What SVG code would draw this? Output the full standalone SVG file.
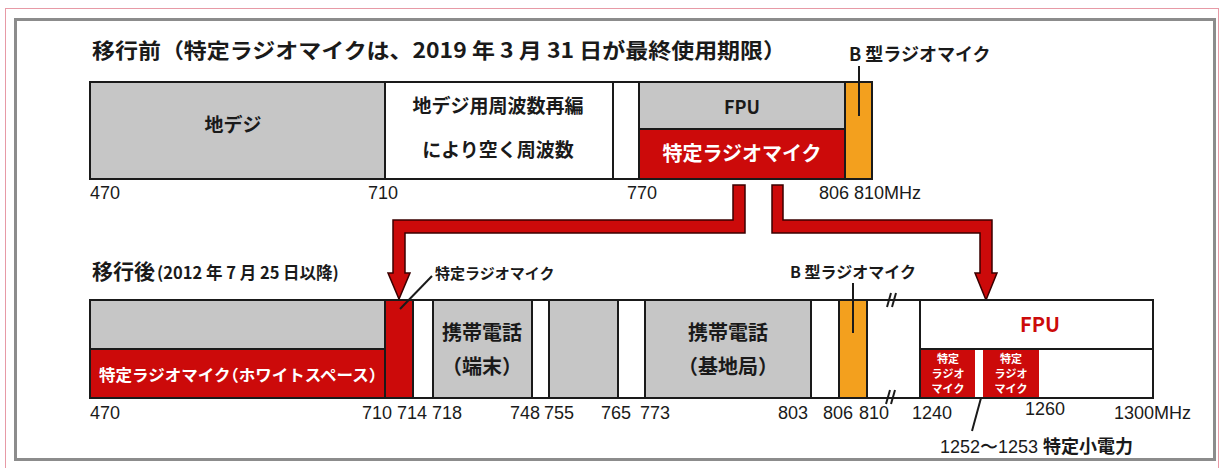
<svg xmlns="http://www.w3.org/2000/svg" width="1225" height="468" viewBox="0 0 1225 468">
<style>
.jp{font-family:'Noto Sans CJK JP','Noto Sans',sans-serif;font-weight:bold;fill:#1a1a1a}
.num{font-family:'Liberation Sans',Arial,sans-serif;font-size:18px;fill:#1a1a1a}
.w{fill:#fff}
.r{fill:#cc0a0a}
.halt{font-feature-settings:"halt"}
.box{stroke:#1a1a1a;stroke-width:2}
.grey{fill:#c6c6c6}
.red{fill:#cc0a0a}
.org{fill:#f3a01e}
.wh{fill:#fff}
.ln{stroke:#1a1a1a;stroke-width:2;fill:none}
.arrow{fill:#cc0a0a;stroke:#3a0000;stroke-width:1.5;stroke-linejoin:miter}
</style>
<rect x="0" y="0" width="1225" height="468" fill="#fff"/>
<rect x="5.5" y="8.5" width="1213" height="470" fill="none" stroke="#e79aa6" stroke-width="1"/>
<rect x="15.5" y="19.5" width="1199" height="440" fill="none" stroke="#8c8c8c" stroke-width="3"/>

<!-- titles -->
<g id="title-before">
<text class="jp" x="92" y="58" font-size="21" textLength="694" lengthAdjust="spacingAndGlyphs">移行前（特定ラジオマイクは、2019 年 3 月 31 日が最終使用期限）</text>
</g>
<g id="title-after">
<text class="jp" x="92" y="279" font-size="21">移行後<tspan font-size="16.5" dx="2">(2012 年 7 月 25 日以降)</tspan></text>
</g>

<!-- top bar -->
<g id="top-chideji">
<rect class="box grey" x="90" y="82" width="295" height="97"/>
<text class="jp" x="233" y="132" font-size="19" text-anchor="middle">地デジ</text>
</g>
<g id="top-freed">
<rect class="box wh" x="385" y="82" width="228" height="97"/>
<text class="jp" x="498" y="113" font-size="19" text-anchor="middle">地デジ用周波数再編</text>
<text class="jp" x="498" y="157" font-size="19" text-anchor="middle">により空く周波数</text>
</g>
<g id="top-gap">
<rect class="box wh" x="613" y="82" width="26" height="97"/>
</g>
<g id="top-fpu">
<rect class="box grey" x="639" y="82" width="206" height="47"/>
<text class="jp" x="742" y="114" font-size="18" text-anchor="middle">FPU</text>
</g>
<g id="top-mic">
<rect class="box red" x="639" y="129" width="206" height="50"/>
<text class="jp w" x="742" y="161" font-size="20" text-anchor="middle">特定ラジオマイク</text>
</g>
<g id="top-bmic">
<rect class="box org" x="845" y="82" width="27" height="97"/>
<line class="ln" x1="859" y1="66" x2="859" y2="116" stroke-width="3"/>
<text class="jp" x="849" y="61" font-size="18">B 型ラジオマイク</text>
</g>
<g id="top-labels">
<text class="num" x="90" y="199">470</text>
<text class="num" x="368" y="199">710</text>
<text class="num" x="627" y="199">770</text>
<text class="num" x="819" y="199">806 810MHz</text>
</g>

<!-- connectors -->
<g id="connectors">
<polygon class="arrow" points="733,185 745,185 745,233 405,233 405,273 410,273 399,299 388,273 393,273 393,220 733,220"/>
<polygon class="arrow" points="772,185 783,185 783,220 992,220 992,273 997,273 986,300 975,273 980,273 980,233 772,233"/>
</g>

<!-- bottom bar -->
<g id="bot-whitespace">
<rect class="box grey" x="90" y="300" width="295" height="49"/>
<rect class="box red" x="90" y="349" width="295" height="49"/>
<text class="jp w halt" x="99" y="381" font-size="16" textLength="278" lengthAdjust="spacingAndGlyphs">特定ラジオマイク（ホワイトスペース）</text>
</g>
<g id="bot-mic">
<rect class="box red" x="385" y="300" width="28" height="98"/>
<line class="ln" x1="400" y1="309" x2="432" y2="276" stroke-width="2.5"/>
<text class="jp" x="435" y="279" font-size="15">特定ラジオマイク</text>
</g>
<g id="bot-gap1"><rect class="box wh" x="413" y="300" width="20" height="98"/></g>
<g id="bot-mobile-term">
<rect class="box grey" x="433" y="300" width="99" height="98"/>
<text class="jp" x="482" y="340" font-size="20" text-anchor="middle">携帯電話</text>
<text class="jp halt" x="482" y="374" font-size="20" text-anchor="middle">（端末）</text>
</g>
<g id="bot-gap2"><rect class="box wh" x="532" y="300" width="17" height="98"/></g>
<g id="bot-grey"><rect class="box grey" x="549" y="300" width="69" height="98"/></g>
<g id="bot-gap3"><rect class="box wh" x="618" y="300" width="27" height="98"/></g>
<g id="bot-mobile-base">
<rect class="box grey" x="645" y="300" width="166" height="98"/>
<text class="jp" x="728" y="340" font-size="20" text-anchor="middle">携帯電話</text>
<text class="jp halt" x="728" y="374" font-size="20" text-anchor="middle">（基地局）</text>
</g>
<g id="bot-gap4"><rect class="box wh" x="811" y="300" width="28" height="98"/></g>
<g id="bot-bmic">
<rect class="box org" x="839" y="300" width="28" height="98"/>
<line class="ln" x1="853" y1="283" x2="853" y2="333" stroke-width="3"/>
<text class="jp" x="790" y="278" font-size="16">B 型ラジオマイク</text>
</g>
<g id="bot-break">
<line class="ln" x1="867" y1="300" x2="920" y2="300"/>
<line class="ln" x1="867" y1="398" x2="920" y2="398"/>
<line class="ln" x1="887" y1="307" x2="891" y2="293" stroke-width="1.5"/>
<line class="ln" x1="892" y1="307" x2="896" y2="293" stroke-width="1.5"/>
<line class="ln" x1="886" y1="404" x2="890" y2="390" stroke-width="1.5"/>
<line class="ln" x1="891" y1="404" x2="895" y2="390" stroke-width="1.5"/>
</g>
<g id="bot-fpu">
<rect class="box wh" x="920" y="300" width="233" height="98"/>
<line class="ln" x1="920" y1="349" x2="1153" y2="349"/>
<text class="jp r" x="1040" y="332" font-size="20" text-anchor="middle">FPU</text>
</g>
<g id="bot-mic1">
<rect class="red" x="921" y="350" width="54" height="47"/>
<text class="jp w" x="948" y="363" font-size="11" text-anchor="middle">特定</text>
<text class="jp w" x="948" y="378" font-size="11" text-anchor="middle">ラジオ</text>
<text class="jp w" x="948" y="393" font-size="11" text-anchor="middle">マイク</text>
</g>
<g id="bot-mic2">
<rect class="red" x="983" y="350" width="56" height="47"/>
<text class="jp w" x="1011" y="363" font-size="11" text-anchor="middle">特定</text>
<text class="jp w" x="1011" y="378" font-size="11" text-anchor="middle">ラジオ</text>
<text class="jp w" x="1011" y="393" font-size="11" text-anchor="middle">マイク</text>
</g>
<g id="bot-lowpower">
<line class="ln" x1="981" y1="398" x2="972" y2="431" stroke-width="2"/>
<text class="num" x="940" y="453">1252〜1253 <tspan class="jp" font-family="'Noto Sans CJK JP',sans-serif" font-weight="bold">特定小電力</tspan></text>
</g>
<g id="bot-labels">
<text class="num" x="90" y="419">470</text>
<text class="num" x="362" y="419">710</text>
<text class="num" x="397" y="419">714</text>
<text class="num" x="432" y="419">718</text>
<text class="num" x="510" y="419">748</text>
<text class="num" x="544" y="419">755</text>
<text class="num" x="601" y="419">765</text>
<text class="num" x="640" y="419">773</text>
<text class="num" x="778" y="419">803</text>
<text class="num" x="823" y="419">806</text>
<text class="num" x="859" y="419">810</text>
<text class="num" x="912" y="419">1240</text>
<text class="num" x="1025" y="415">1260</text>
<text class="num" x="1114" y="419">1300MHz</text>
</g>
</svg>
